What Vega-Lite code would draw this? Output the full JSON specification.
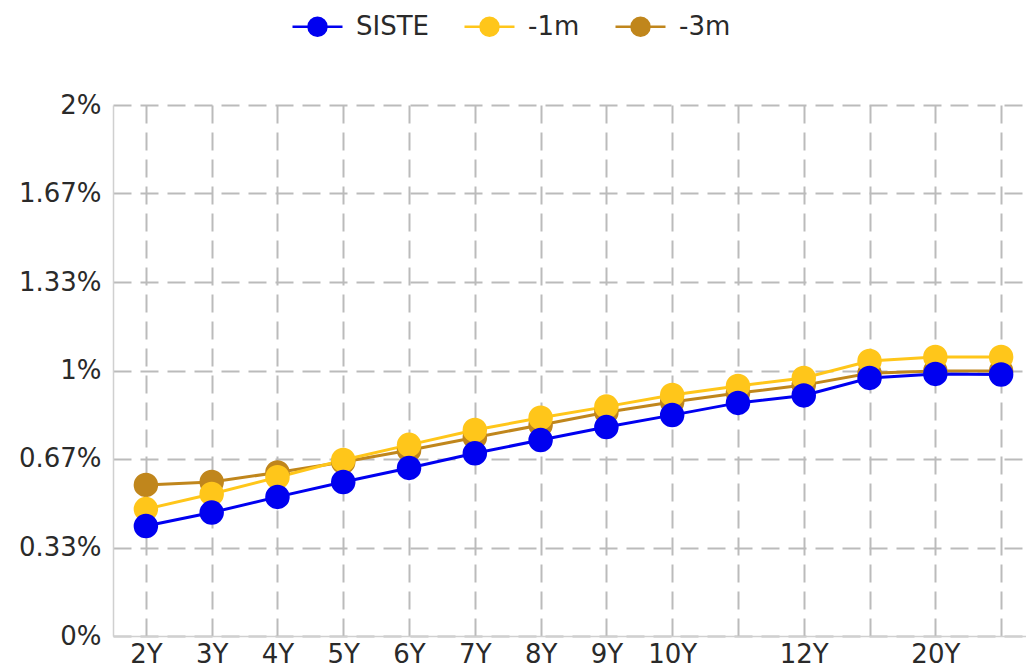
{
  "$schema": "https://vega.github.io/schema/vega-lite/v6.json",
  "autosize": {"type": "none"},
  "width": 921,
  "height": 531,
  "padding": {"left": 113, "top": 105, "right": 0, "bottom": 33},
  "background": "white",
  "config": {
    "font": "DejaVu Sans",
    "view": {"stroke": null},
    "axis": {
      "labelFont": "DejaVu Sans",
      "labelFontSize": 26,
      "labelColor": "#2a2a2a",
      "domainColor": "#d0d0d0",
      "domainWidth": 1.5,
      "gridColor": "#bbbbbb",
      "gridDash": [18, 9],
      "gridWidth": 2,
      "ticks": false,
      "title": null
    }
  },
  "data": {
    "values": [
      {"tenor": "2Y", "serie": "-3m", "v": 0.569},
      {"tenor": "3Y", "serie": "-3m", "v": 0.580},
      {"tenor": "4Y", "serie": "-3m", "v": 0.616},
      {"tenor": "5Y", "serie": "-3m", "v": 0.655},
      {"tenor": "6Y", "serie": "-3m", "v": 0.700},
      {"tenor": "7Y", "serie": "-3m", "v": 0.748},
      {"tenor": "8Y", "serie": "-3m", "v": 0.795},
      {"tenor": "9Y", "serie": "-3m", "v": 0.843},
      {"tenor": "10Y", "serie": "-3m", "v": 0.881},
      {"tenor": "11Y", "serie": "-3m", "v": 0.915},
      {"tenor": "12Y", "serie": "-3m", "v": 0.945},
      {"tenor": "15Y", "serie": "-3m", "v": 0.990},
      {"tenor": "20Y", "serie": "-3m", "v": 0.998},
      {"tenor": "30Y", "serie": "-3m", "v": 0.998},
      {"tenor": "2Y", "serie": "-1m", "v": 0.478},
      {"tenor": "3Y", "serie": "-1m", "v": 0.535},
      {"tenor": "4Y", "serie": "-1m", "v": 0.598},
      {"tenor": "5Y", "serie": "-1m", "v": 0.663},
      {"tenor": "6Y", "serie": "-1m", "v": 0.720},
      {"tenor": "7Y", "serie": "-1m", "v": 0.776},
      {"tenor": "8Y", "serie": "-1m", "v": 0.822},
      {"tenor": "9Y", "serie": "-1m", "v": 0.864},
      {"tenor": "10Y", "serie": "-1m", "v": 0.908},
      {"tenor": "11Y", "serie": "-1m", "v": 0.942},
      {"tenor": "12Y", "serie": "-1m", "v": 0.972},
      {"tenor": "15Y", "serie": "-1m", "v": 1.036},
      {"tenor": "20Y", "serie": "-1m", "v": 1.051},
      {"tenor": "30Y", "serie": "-1m", "v": 1.051},
      {"tenor": "2Y", "serie": "SISTE", "v": 0.414},
      {"tenor": "3Y", "serie": "SISTE", "v": 0.465},
      {"tenor": "4Y", "serie": "SISTE", "v": 0.524},
      {"tenor": "5Y", "serie": "SISTE", "v": 0.580},
      {"tenor": "6Y", "serie": "SISTE", "v": 0.633},
      {"tenor": "7Y", "serie": "SISTE", "v": 0.688},
      {"tenor": "8Y", "serie": "SISTE", "v": 0.738},
      {"tenor": "9Y", "serie": "SISTE", "v": 0.787},
      {"tenor": "10Y", "serie": "SISTE", "v": 0.832},
      {"tenor": "11Y", "serie": "SISTE", "v": 0.878},
      {"tenor": "12Y", "serie": "SISTE", "v": 0.906},
      {"tenor": "15Y", "serie": "SISTE", "v": 0.972},
      {"tenor": "20Y", "serie": "SISTE", "v": 0.987},
      {"tenor": "30Y", "serie": "SISTE", "v": 0.985}
    ]
  },
  "encoding": {
    "x": {
      "field": "tenor",
      "type": "ordinal",
      "sort": null,
      "scale": {"type": "point", "padding": 0.5},
      "axis": {
        "labelAngle": 0,
        "labelPadding": 5,
        "grid": true,
        "labelExpr": "(datum.value == '11Y' || datum.value == '15Y' || datum.value == '30Y') ? '' : datum.value"
      }
    },
    "y": {
      "field": "v",
      "type": "quantitative",
      "scale": {"domain": [0, 2], "nice": false},
      "axis": {
        "values": [0, 0.33333, 0.66667, 1, 1.33333, 1.66667, 2],
        "labelExpr": "format(datum.value, '.2~f') + '%'",
        "labelPadding": 12
      }
    },
    "color": {
      "field": "serie",
      "type": "nominal",
      "scale": {"domain": ["SISTE", "-1m", "-3m"], "range": ["#0000f0", "#ffc61a", "#c0861c"]},
      "legend": {
        "orient": "none",
        "legendX": 178,
        "legendY": -105,
        "direction": "horizontal",
        "title": null,
        "labelFontSize": 26,
        "labelColor": "#2a2a2a",
        "labelFont": "DejaVu Sans",
        "symbolType": "M-1,0H1M0.36,0A0.36,0.36,0,1,1,-0.36,0A0.36,0.36,0,1,1,0.36,0Z",
        "symbolSize": 2500,
        "symbolStrokeWidth": 2.5,
        "columnPadding": 30,
        "labelOffset": 12,
        "encode": {"symbols": {"update": {"fill": {"scale": "color", "field": "value"}, "stroke": {"scale": "color", "field": "value"}, "opacity": {"value": 1}}}}
      }
    }
  },
  "layer": [
    {"mark": {"type": "line", "strokeWidth": 3}, "encoding": {"detail": {"field": "serie"}}},
    {"mark": {"type": "point", "filled": true, "size": 600, "opacity": 1}}
  ]
}
